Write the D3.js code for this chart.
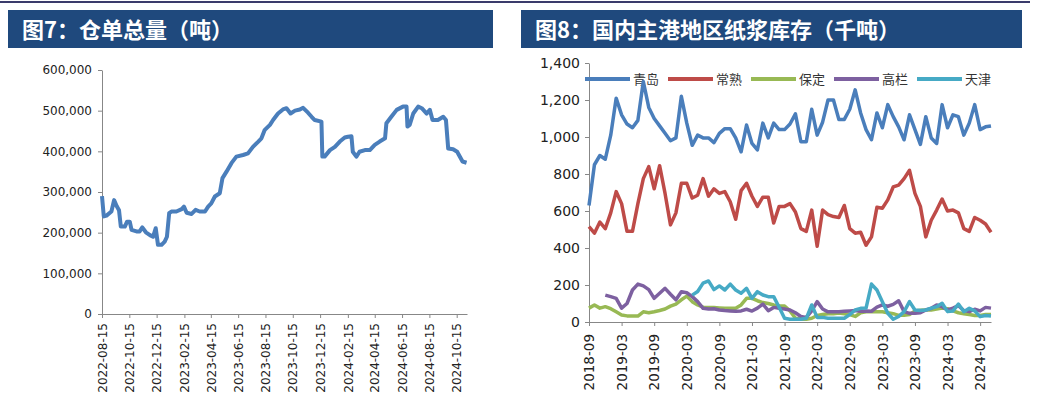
<!DOCTYPE html>
<html><head><meta charset="utf-8">
<script src="https://cdn.jsdelivr.net/npm/d3@7"></script>
<style>
html,body{margin:0;padding:0;background:#fff;}
svg{display:block;}
</style></head>
<body>
<svg id="c" width="1040" height="416"></svg>
<script>
// ---------- Data: Figure 7 (warehouse receipts, tons) ----------
const leftDates = ["2022-08-15","2022-08-19","2022-08-25","2022-09-05","2022-09-11","2022-09-17","2022-09-22","2022-09-26","2022-10-05","2022-10-10","2022-10-16","2022-10-20","2022-10-31","2022-11-07","2022-11-13","2022-11-21","2022-11-30","2022-12-07","2022-12-13","2022-12-18","2022-12-26","2023-01-02","2023-01-07","2023-01-12","2023-01-17","2023-01-28","2023-02-09","2023-02-14","2023-02-20","2023-03-03","2023-03-12","2023-03-21","2023-04-02","2023-04-09","2023-04-16","2023-04-24","2023-05-05","2023-05-11","2023-05-20","2023-05-31","2023-06-11","2023-06-26","2023-07-07","2023-07-18","2023-07-30","2023-08-06","2023-08-13","2023-08-25","2023-09-01","2023-09-12","2023-09-23","2023-10-01","2023-10-10","2023-10-20","2023-10-31","2023-11-07","2023-11-18","2023-11-26","2023-12-03","2023-12-18","2023-12-20","2023-12-25","2024-01-06","2024-01-17","2024-01-28","2024-02-08","2024-02-15","2024-02-23","2024-02-26","2024-03-05","2024-03-12","2024-03-24","2024-04-04","2024-04-15","2024-04-26","2024-05-08","2024-05-11","2024-05-22","2024-06-03","2024-06-17","2024-06-25","2024-06-27","2024-07-02","2024-07-10","2024-07-21","2024-07-29","2024-08-09","2024-08-16","2024-08-22","2024-09-03","2024-09-15","2024-09-21","2024-09-26","2024-10-07","2024-10-16","2024-10-24","2024-10-28","2024-11-06"];
const leftValues = [290000,240000,242000,252000,280000,265000,255000,215000,215000,227000,227000,207000,203000,203000,213000,201000,194000,190000,211000,170000,170000,178000,190000,248000,252000,252000,258000,264000,249000,246000,256000,252000,252000,264000,272000,289000,297000,334000,350000,371000,387000,391000,395000,411000,424000,432000,452000,465000,477000,493000,503000,506000,493000,500000,503000,507000,495000,485000,477000,473000,387000,387000,403000,411000,424000,434000,436000,437000,399000,387000,399000,403000,403000,416000,424000,432000,469000,485000,502000,510000,510000,461000,465000,493000,510000,506000,493000,502000,477000,477000,485000,477000,407000,405000,399000,383000,375000,372000];
const leftTickLabels = ["2022-08-15","2022-10-15","2022-12-15","2023-02-15","2023-04-15","2023-06-15","2023-08-15","2023-10-15","2023-12-15","2024-02-15","2024-04-15","2024-06-15","2024-08-15","2024-10-15"];
const leftYTicks = [0,100000,200000,300000,400000,500000,600000];

// ---------- Data: Figure 8 (port pulp inventory, kt) ----------
const seriesNames = ["青岛","常熟","保定","高栏","天津"];
const qingdao = [630,850,900,880,1010,1210,1120,1070,1050,1090,1300,1160,1100,1060,1020,980,995,1220,1075,955,1010,995,995,970,1020,1045,1045,995,920,1065,965,930,1075,995,1075,1040,1040,1070,1125,975,975,1150,1010,1080,1200,1200,1095,1095,1150,1255,1130,1040,985,1130,1050,1175,1110,1055,985,1120,1040,960,1110,995,965,1175,1050,1120,1110,1010,1075,1175,1040,1055,1060];
const changshu = [515,480,540,505,590,705,640,490,490,640,775,840,720,845,695,525,590,750,750,670,685,775,680,720,695,705,650,555,710,750,680,625,675,675,535,625,625,640,595,505,490,605,410,605,580,570,565,630,505,480,485,415,460,620,615,660,730,740,775,820,695,625,460,550,605,665,600,605,590,505,490,565,550,530,485];
const baoding = [75,92,75,83,72,55,38,33,32,32,55,50,55,62,70,86,97,120,140,110,92,80,78,78,76,74,74,74,92,128,128,115,105,100,92,88,86,60,20,15,15,20,35,40,45,45,48,45,40,30,50,55,55,55,55,50,45,36,36,40,60,63,65,65,70,75,72,60,50,45,40,35,35,40,40];
const gaolan = [null,null,null,145,137,128,75,100,173,205,195,175,128,155,182,150,120,164,158,137,110,74,70,72,65,62,60,58,60,69,59,75,97,61,79,74,70,65,50,30,25,60,110,70,55,55,55,58,60,62,58,60,58,80,92,85,95,115,56,47,47,50,65,74,92,83,65,75,88,62,56,69,60,79,75];
const tianjin = [null,null,null,null,null,null,null,null,null,null,null,null,null,null,null,null,null,null,null,145,165,210,222,175,195,173,205,173,155,182,128,164,146,137,137,80,20,15,15,15,20,92,25,25,20,20,20,20,40,65,74,75,205,173,110,47,15,30,56,110,65,62,65,75,83,101,56,60,97,56,74,60,29,35,32];
const rightTickLabels = ["2018-09","2019-03","2019-09","2020-03","2020-09","2021-03","2021-09","2022-03","2022-09","2023-03","2023-09","2024-03","2024-09"];
const rightYTicks = [0,200,400,600,800,1000,1200,1400];
const seriesColors = ["#4A7EBB","#BE4B48","#98B954","#7D60A0","#46AAC5"];

// ---------- Drawing ----------
const svg = d3.select("#c");
svg.append("rect").attr("width",1040).attr("height",416).attr("fill","#fff");
svg.append("rect").attr("x",0).attr("y",1).attr("width",1030).attr("height",2).attr("fill","#3a3b6b");

function titleBar(x, w, text){
  svg.append("rect").attr("x",x).attr("y",10).attr("width",w).attr("height",38).attr("fill","#1F497D");
  svg.append("text").attr("x",x+14).attr("y",38).attr("fill","#fff")
    .attr("font-family","'Noto Sans CJK SC',sans-serif").attr("font-weight",700)
    .attr("font-size",22).text(text);
}
titleBar(8, 485, "图7：仓单总量（吨）");
titleBar(521, 501, "图8：国内主港地区纸浆库存（千吨）");

const axisColor = "#878787";
function styleAxis(g, fs){
  g.selectAll("path,line").attr("stroke",axisColor).attr("stroke-width",1);
  g.selectAll("text").attr("fill","#222").attr("font-family","'DejaVu Sans',sans-serif").attr("font-size",fs);
}

// Left chart
const parse = d3.utcParse("%Y-%m-%d");
const lx = d3.scaleUtc().domain([parse("2022-08-15"), parse("2024-11-07")]).range([102, 467]);
const ly = d3.scaleLinear().domain([0,600000]).range([314, 70]);
const fmt = d3.format(",");

const lyAxis = svg.append("g").attr("transform","translate(102,0)")
  .call(d3.axisLeft(ly).tickValues(leftYTicks).tickFormat(fmt).tickSize(4).tickPadding(6).tickSizeOuter(0));
styleAxis(lyAxis, 12);
const lxAxis = svg.append("g").attr("transform","translate(0,314)")
  .call(d3.axisBottom(lx).tickValues(leftTickLabels.map(parse)).tickFormat(d3.utcFormat("%Y-%m-%d")).tickSize(4).tickSizeOuter(0));
styleAxis(lxAxis, 12);
lxAxis.selectAll("text").attr("transform","rotate(-90)").attr("text-anchor","end")
  .attr("x",-9).attr("y",0).attr("dy","0.35em");

const leftData = leftDates.map((d,i)=>({date:parse(d), v:leftValues[i]}));
svg.append("path").datum(leftData)
  .attr("fill","none").attr("stroke","#4A7EBB").attr("stroke-width",4).attr("stroke-linejoin","round")
  .attr("d", d3.line().x(d=>lx(d.date)).y(d=>ly(d.v)));

// Right chart
const months = d3.utcMonth.range(parse("2018-09-01"), parse("2024-12-01")).map(d3.utcFormat("%Y-%m"));
const rx = d3.scalePoint().domain(months).range([589, 991]);
const ry = d3.scaleLinear().domain([0,1400]).range([322, 63]);

const ryAxis = svg.append("g").attr("transform","translate(589,0)")
  .call(d3.axisLeft(ry).tickValues(rightYTicks).tickFormat(fmt).tickSize(4).tickPadding(5).tickSizeOuter(0));
styleAxis(ryAxis, 14);
const rxAxis = svg.append("g").attr("transform","translate(0,322)")
  .call(d3.axisBottom(rx).tickValues(rightTickLabels).tickSize(4).tickSizeOuter(0));
styleAxis(rxAxis, 13.5);
rxAxis.selectAll("text").attr("transform","rotate(-90)").attr("text-anchor","end")
  .attr("x",-12).attr("y",0).attr("dy","0.35em");

// legend
const legendG = svg.append("g");
seriesNames.forEach((n,i)=>{
  const x0 = 585 + i*83;
  legendG.append("line").attr("x1",x0).attr("x2",x0+45).attr("y1",79).attr("y2",79)
    .attr("stroke",seriesColors[i]).attr("stroke-width",4);
  legendG.append("text").attr("x",x0+48).attr("y",79).attr("dy","0.36em")
    .attr("font-family","'Noto Sans CJK SC',sans-serif").attr("font-size",13).attr("fill","#333").text(n);
});

const allSeries = [qingdao, changshu, baoding, gaolan, tianjin];
const rline = d3.line().defined(d=>d!=null).x((d,i)=>rx(months[i])).y(d=>ry(d));
[2,3,4,1,0].forEach(k=>{
  svg.append("path").datum(allSeries[k]).attr("fill","none").attr("stroke",seriesColors[k])
    .attr("stroke-width",3.5).attr("stroke-linejoin","round").attr("d", rline);
});
</script>
</body></html>
